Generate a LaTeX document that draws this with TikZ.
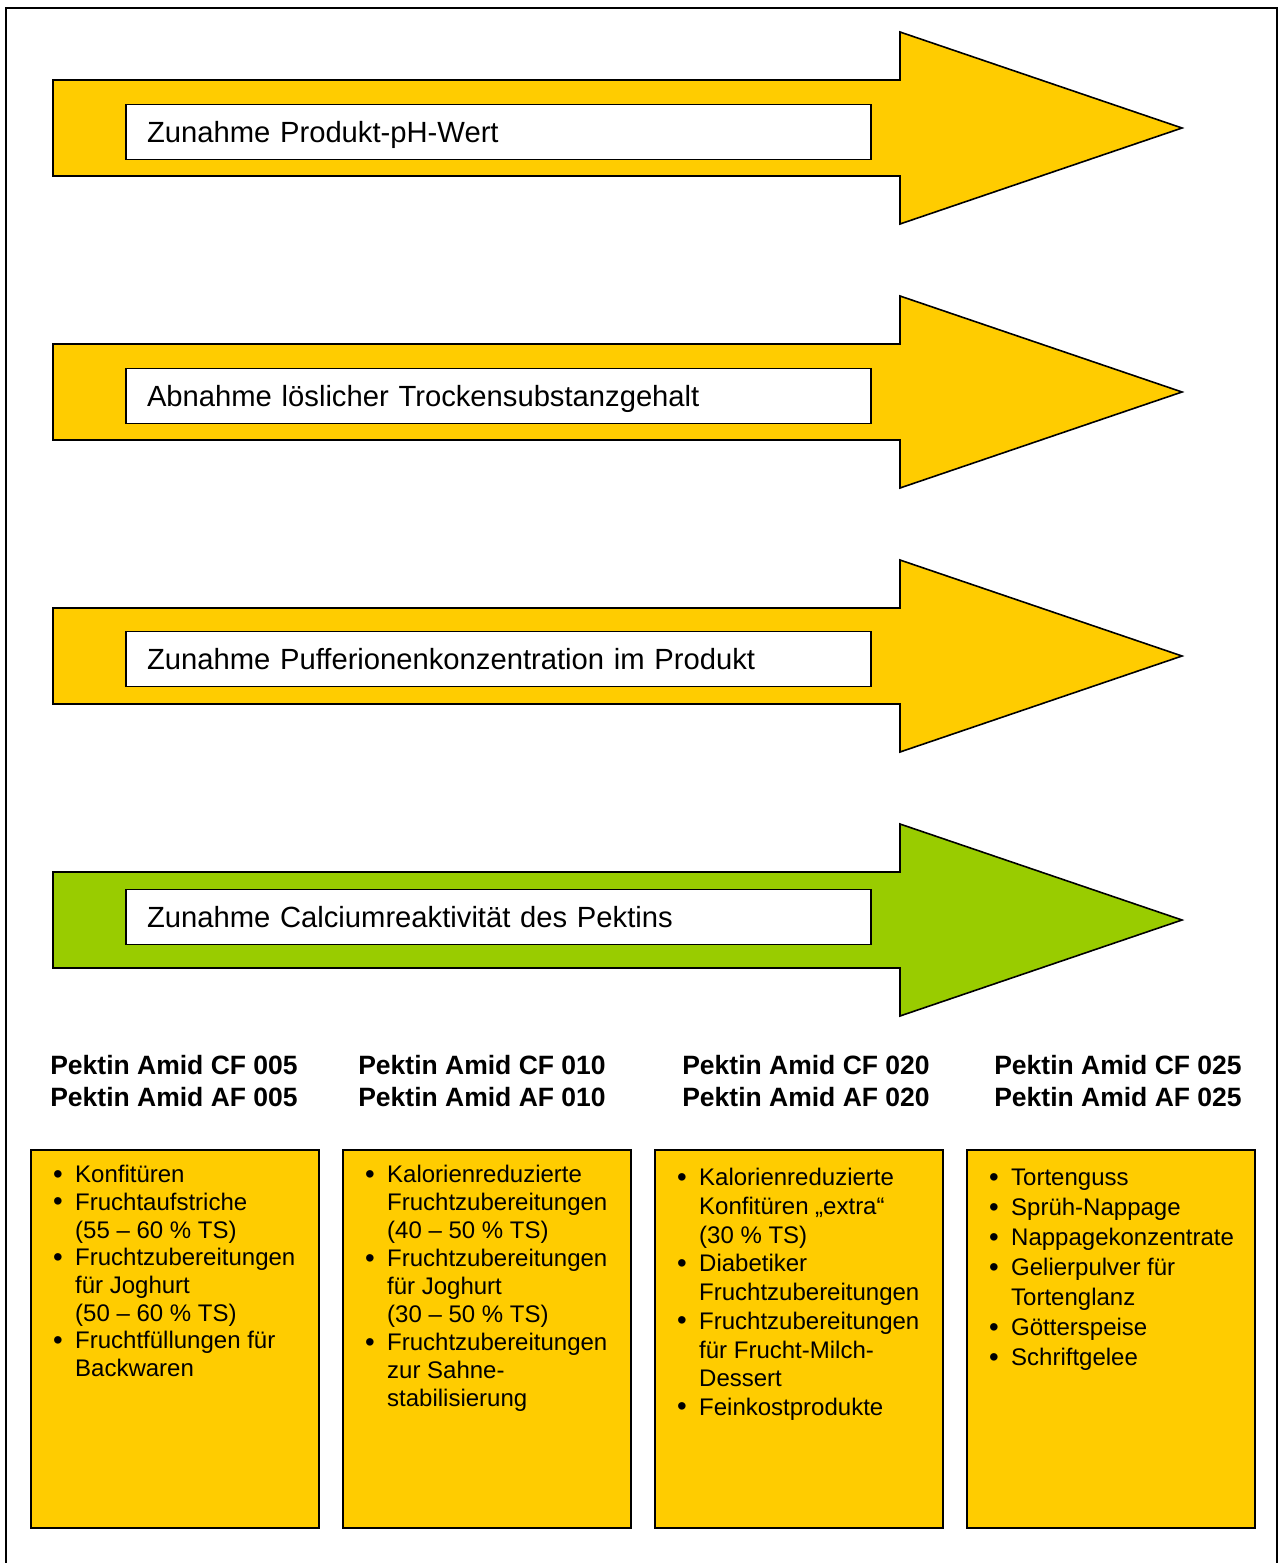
\documentclass[tikz,border=0pt]{standalone}
\usepackage{fontspec}
\setmainfont{Liberation Sans}
\definecolor{pyellow}{HTML}{FFCC00}
\definecolor{pgreen}{HTML}{99CC00}
\begin{document}
\begin{tikzpicture}[x=1pt,y=-1pt,
  bigarrow/.style={draw=black,line width=1.6pt,line join=miter},
  labelbox/.style={draw=black,fill=white,line width=1.6pt,minimum width=745,minimum height=55,
    text width=703,inner xsep=21,inner ysep=0,align=left,text height=24,text depth=4,
    font=\fontsize{29.2}{33}\selectfont},
  headtext/.style={inner sep=0,anchor=north,font=\fontsize{26.5}{32}\bfseries\selectfont},
  appbox/.style={draw=black,fill=pyellow,line width=1.5pt,minimum width=288,minimum height=378,inner sep=0},
  listtext/.style={inner sep=0,anchor=north west}
]
\useasboundingbox (0,0) rectangle (1279,1563);
\fill[white] (0,0) rectangle (1279,1563);
% outer frame
\draw[line width=1.6pt] (6,1563) -- (6,8) -- (1277,8) -- (1277,1563);

% arrows
\foreach \i/\col in {0/pyellow,1/pyellow,2/pyellow,3/pgreen}{
  \pgfmathsetmacro{\dy}{264*\i}
  \draw[bigarrow,fill=\col] (53,80+\dy) -- (900,80+\dy) -- (900,32+\dy) -- (1182,128+\dy)
     -- (900,224+\dy) -- (900,176+\dy) -- (53,176+\dy) -- cycle;
}
\node[labelbox] (l1) at (498.5,132) {Zunahme Produkt-pH-Wert};
\node[labelbox] (l2) at (498.5,396) {Abnahme löslicher Trockensubstanzgehalt};
\node[labelbox] (l3) at (498.5,659) {Zunahme Pufferionenkonzentration im Produkt};
\node[labelbox] (l4) at (498.5,917) {Zunahme Calciumreaktivität des Pektins};

% headers
\node[headtext] (h1) at (174,1052) {\begin{tabular}{@{}c@{}}Pektin Amid CF 005\\Pektin Amid AF 005\end{tabular}};
\node[headtext] (h2) at (482,1052) {\begin{tabular}{@{}c@{}}Pektin Amid CF 010\\Pektin Amid AF 010\end{tabular}};
\node[headtext] (h3) at (806,1052) {\begin{tabular}{@{}c@{}}Pektin Amid CF 020\\Pektin Amid AF 020\end{tabular}};
\node[headtext] (h4) at (1118,1052) {\begin{tabular}{@{}c@{}}Pektin Amid CF 025\\Pektin Amid AF 025\end{tabular}};

% application boxes (with thin shadow)
\foreach \x in {30,342,654,966}{
  \fill[black!55] (\x+1.5,1151) rectangle (\x+289.5,1529);
}
\node[appbox,anchor=north west] (b1) at (30,1149) {};
\node[appbox,anchor=north west] (b2) at (342,1149) {};
\node[appbox,anchor=north west] (b3) at (654,1149) {};
\node[appbox,anchor=north west] (b4) at (966,1149) {};

\newcommand{\bu}{\makebox[22pt][l]{\raisebox{-0.5pt}{\scalebox{1.15}{•}}}}
\node[listtext,font=\fontsize{24}{27.7}\selectfont] (t1) at (53,1163) {\begin{tabular}{@{}l@{}l@{}}
\bu & Konfitüren\\
\bu & Fruchtaufstriche\\
 & (55 – 60 \% TS)\\
\bu & Fruchtzubereitungen\\
 & für Joghurt\\
 & (50 – 60 \% TS)\\
\bu & Fruchtfüllungen für\\
 & Backwaren
\end{tabular}};
\node[listtext,font=\fontsize{24}{28}\selectfont] (t2) at (365,1163) {\begin{tabular}{@{}l@{}l@{}}
\bu & Kalorienreduzierte\\
 & Fruchtzubereitungen\\
 & (40 – 50 \% TS)\\
\bu & Fruchtzubereitungen\\
 & für Joghurt\\
 & (30 – 50 \% TS)\\
\bu & Fruchtzubereitungen\\
 & zur Sahne-\\
 & stabilisierung
\end{tabular}};
\node[listtext,font=\fontsize{24}{28.7}\selectfont] (t3) at (677,1165.5) {\begin{tabular}{@{}l@{}l@{}}
\bu & Kalorienreduzierte\\
 & Konfitüren „extra“\\
 & (30 \% TS)\\
\bu & Diabetiker\\
 & Fruchtzubereitungen\\
\bu & Fruchtzubereitungen\\
 & für Frucht-Milch-\\
 & Dessert\\
\bu & Feinkostprodukte
\end{tabular}};
\node[listtext,font=\fontsize{24}{30}\selectfont] (t4) at (989,1164.5) {\begin{tabular}{@{}l@{}l@{}}
\bu & Tortenguss\\
\bu & Sprüh-Nappage\\
\bu & Nappagekonzentrate\\
\bu & Gelierpulver für\\
 & Tortenglanz\\
\bu & Götterspeise\\
\bu & Schriftgelee
\end{tabular}};
\end{tikzpicture}
\end{document}
